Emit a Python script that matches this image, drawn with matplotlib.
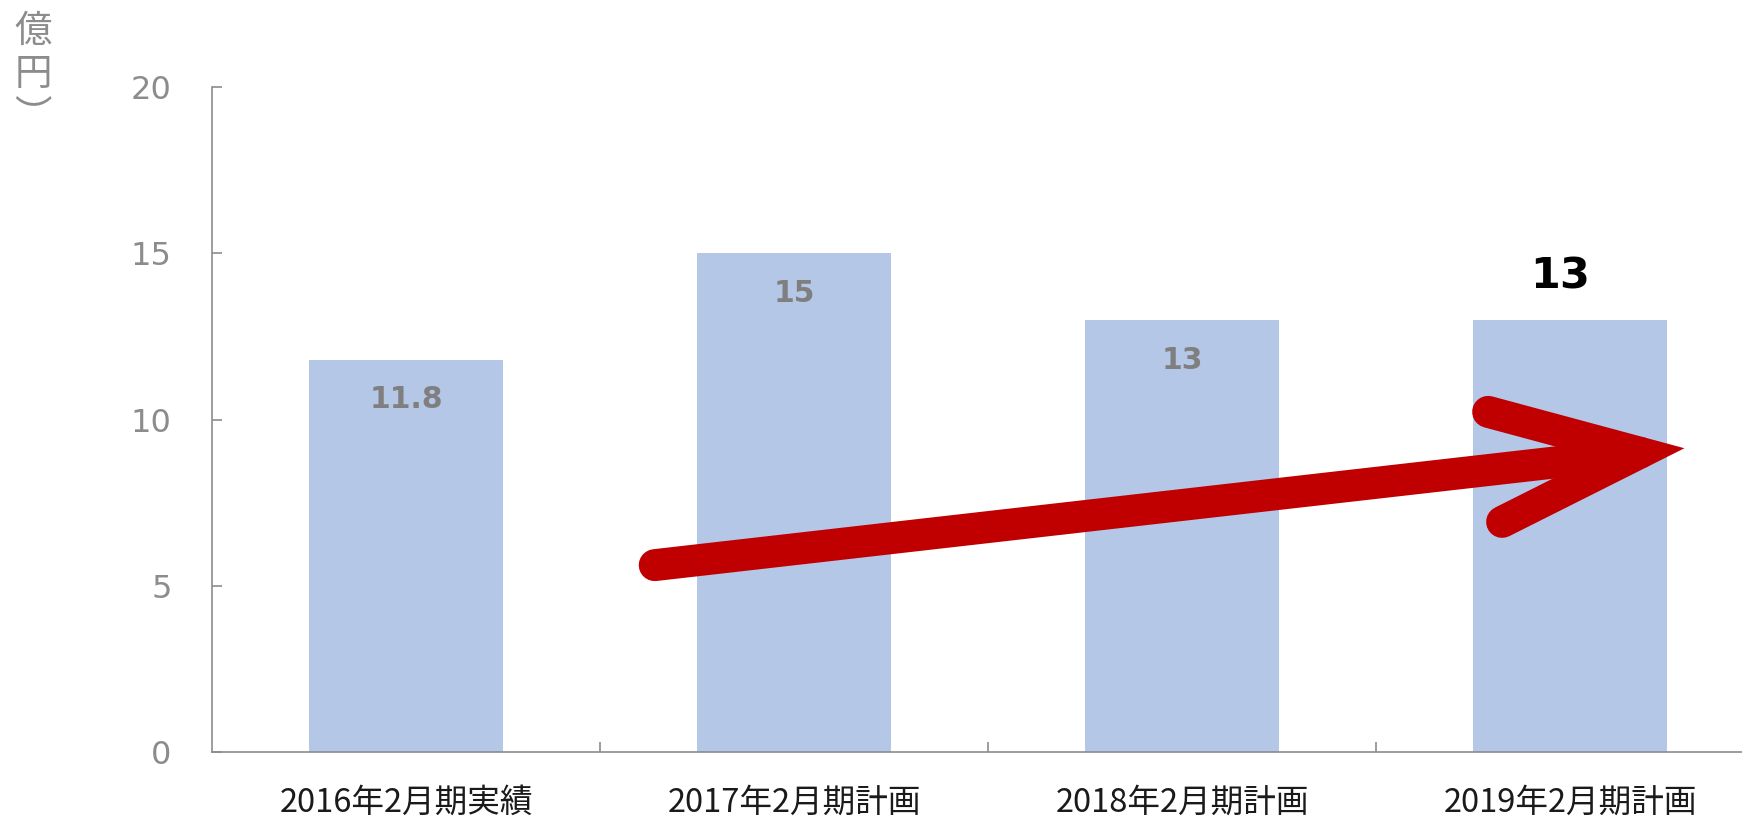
import matplotlib
matplotlib.use('Agg')
import matplotlib.pyplot as plt
from matplotlib.lines import Line2D

# 経常利益の推移（億円）
periods = ['2016年2月期実績', '2017年2月期計画', '2018年2月期計画', '2019年2月期計画']
values = [11.8, 15, 13, 13]
value_labels = ['11.8', '15', '13', '13']
y_ticks = [0, 5, 10, 15, 20]

# trend arrow, in data units (x = category index, y = 億円)
arrow_start = (0.641, 5.62)
arrow_vertex = (3.18, 9.0)
arrow_barb_top = (2.789, 10.23)
arrow_barb_bottom = (2.825, 6.92)

bar_color = '#B4C7E7'
axis_color = '#8C8C8C'
label_grey = '#7F7F7F'
red = '#C00000'
cjk = ['Noto Sans CJK JP', 'DejaVu Sans']

fig = plt.figure(figsize=(17.42, 8.19), dpi=100)
ax = fig.add_axes([212 / 1742, 67 / 819, 1552 / 1742, 665 / 819])

x = list(range(len(periods)))
ax.bar(x, values, width=0.5, color=bar_color, zorder=2)

ax.set_xlim(-0.5, 3.5)
ax.set_ylim(0, 20)

for s in ['top', 'right']:
    ax.spines[s].set_visible(False)
for s in ['left', 'bottom']:
    ax.spines[s].set_color(axis_color)
    ax.spines[s].set_linewidth(1.2)

ax.set_yticks(y_ticks)
ax.set_yticklabels([str(t) for t in y_ticks], fontsize=23, color='#8C8C8C',
                   family='DejaVu Sans')
ax.tick_params(axis='y', direction='in', length=7, width=1.2, color=axis_color, pad=29)

ax.set_xticks(x)
ax.set_xticklabels(periods, fontsize=23.5, color='#1A1A1A', family=cjk)
ax.tick_params(axis='x', which='major', length=0, pad=25)
ax.set_xticks([0.5, 1.5, 2.5], minor=True)
ax.tick_params(axis='x', which='minor', direction='in', length=7, width=1.2,
               color=axis_color)

# value labels inside the bars; the last period is printed big above its bar
for i, (v, lab) in enumerate(zip(values[:-1], value_labels[:-1])):
    ax.annotate(lab, (i, v), xytext=(0, -29), textcoords='offset points',
                ha='center', va='center', fontsize=21.5, fontweight='bold',
                color=label_grey, family='DejaVu Sans', zorder=3)
ax.annotate(value_labels[-1], (3, values[-1]), xytext=(-7, 31), textcoords='offset points',
            ha='center', va='center', fontsize=31, fontweight='bold',
            color='black', family='DejaVu Sans', zorder=5)

# red arrow: shaft plus open head with sharp tip
shaft = Line2D([arrow_start[0], arrow_vertex[0]], [arrow_start[1], arrow_vertex[1]],
               color=red, lw=23, solid_capstyle='round', zorder=4)
head = Line2D([arrow_barb_top[0], arrow_vertex[0], arrow_barb_bottom[0]],
              [arrow_barb_top[1], arrow_vertex[1], arrow_barb_bottom[1]],
              color=red, lw=23, solid_capstyle='round', solid_joinstyle='miter',
              zorder=4)
ax.add_line(shaft)
ax.add_line(head)

# unit label, stacked vertically
fig.text(33 / 1742, 1 - 12 / 819, '億\n円\n︶', fontsize=27, color='#8C8C8C',
         family=cjk, ha='center', va='top', linespacing=1.12)

fig.savefig('out.png', dpi=100)
